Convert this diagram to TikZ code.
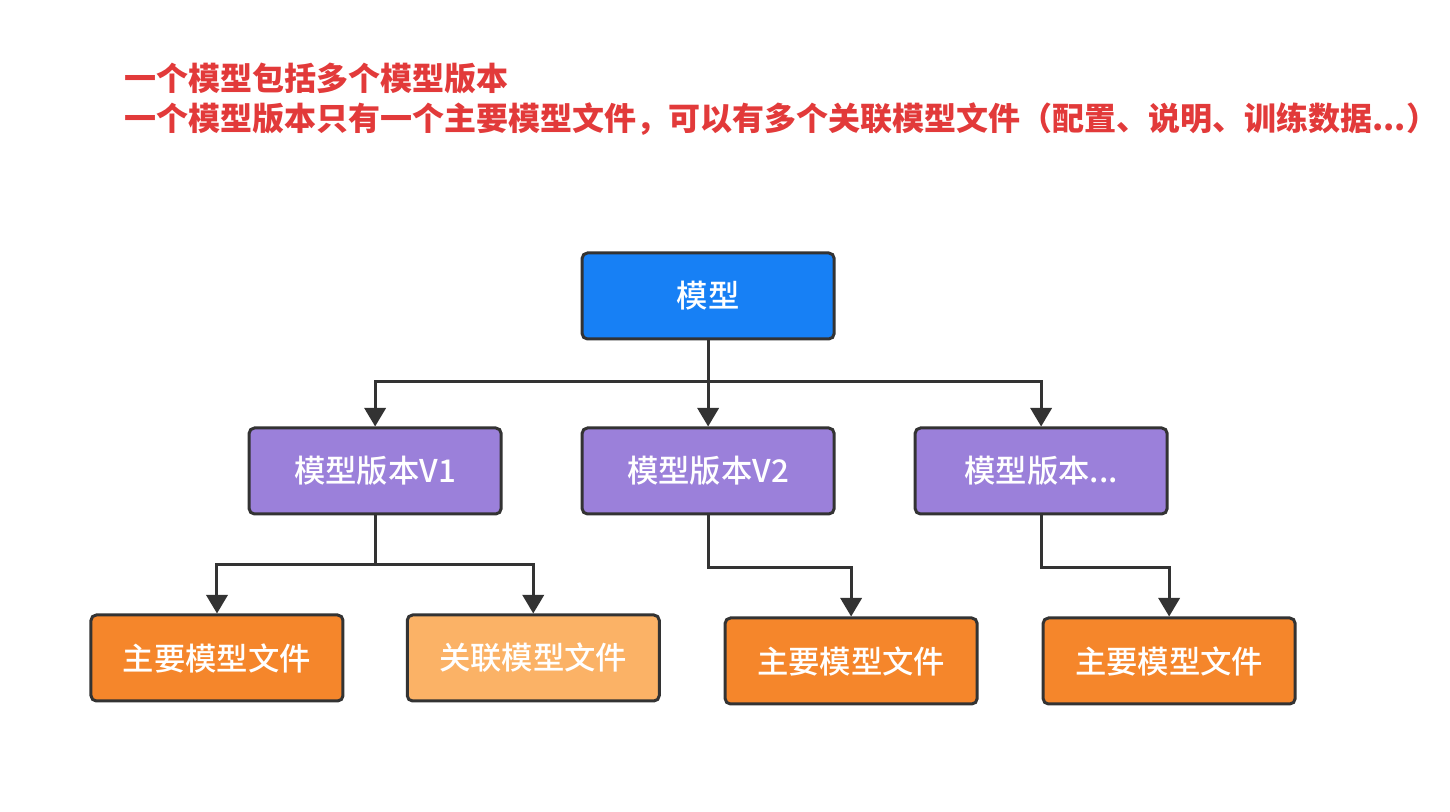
\documentclass[tikz,border=0pt]{standalone}
\usepackage{fontspec}
\setmainfont{Noto Sans CJK SC}
\newfontfamily\mediumcjk{Noto Sans CJK SC Medium}
\usetikzlibrary{arrows.meta, positioning, calc}

\definecolor{modelblue}{HTML}{1780F5}
\definecolor{versionpurple}{HTML}{9B80DA}
\definecolor{mainorange}{HTML}{F5862B}
\definecolor{linkorange}{HTML}{FBB266}
\definecolor{notered}{HTML}{E23A3A}
\definecolor{edgegray}{HTML}{333333}

\begin{document}
\begin{tikzpicture}[
    font=\mediumcjk\fontsize{23.5pt}{28pt}\selectfont,
    box/.style = {rectangle, draw=edgegray, line width=2.25pt, text=white, rounded corners=4pt, minimum width=189pt, minimum height=64.5pt, inner sep=0pt},
    model_box/.style = {box, fill=modelblue},
    version_box/.style = {box, fill=versionpurple},
    main_box/.style = {box, fill=mainorange},
    link_box/.style = {box, fill=linkorange},
    line/.style = {draw=edgegray, line width=2.25pt, -{Triangle[width=16pt,length=14pt]}},
    joint/.style = {draw=edgegray, line width=2.25pt}
]

% Frame
\useasboundingbox (-530.6pt,222pt) rectangle (556.9pt,-387pt);

% Note
\node [anchor=west, align=left, inner sep=0pt, text=notered, font=\bfseries\fontsize{24pt}{30pt}\selectfont] (note) at (-437.5pt,147.5pt)
    {一个模型包括多个模型版本\\一个模型版本只有一个主要模型文件，可以有多个关联模型文件（配置、说明、训练数据...）};

% Nodes
\node [model_box] (model) at (0.5pt,0) {模型};

\node [version_box, below=64.5pt of model] (v2) {模型版本V2};
\node [version_box, left=58.5pt of v2] (v1) {模型版本V1};
\node [version_box, right=58.5pt of v2] (vmore) {模型版本...};

\node [main_box, below=73.5pt of v1, xshift=-118.6pt] (main_a) {主要模型文件};
\node [link_box, below=73.5pt of v1, xshift=118.6pt] (link_a) {关联模型文件};
\node [main_box, below=75.75pt of v2, xshift=107.25pt] (main_b) {主要模型文件};
\node [main_box, below=75.75pt of vmore, xshift=96pt] (main_c) {主要模型文件};

% Joints
\coordinate [below=30.75pt of model.south] (split_model);
\coordinate [below=36.75pt of v1.south] (split_a);
\coordinate [below=39pt of v2.south] (split_b);
\coordinate [below=39pt of vmore.south] (split_c);

% Edges
\path [joint] (model) -- (split_model);
\path [line] (split_model) -| (v1);
\path [line] (split_model) -- (v2);
\path [line] (split_model) -| (vmore);

\path [joint] (v1) -- (split_a);
\path [line] (split_a) -| (main_a);
\path [line] (split_a) -| (link_a);

\path [line] (v2) -- (split_b) -| (main_b);
\path [line] (vmore) -- (split_c) -| (main_c);

\end{tikzpicture}
\end{document}
